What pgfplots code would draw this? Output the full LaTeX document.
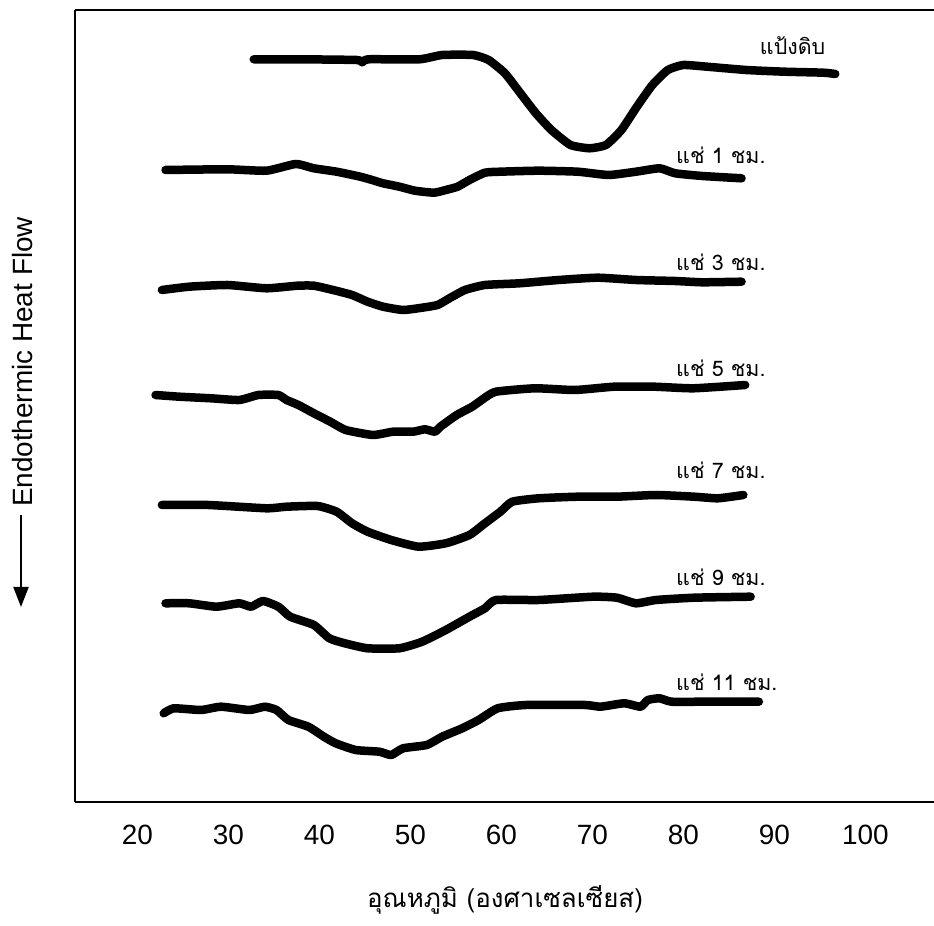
\documentclass[border=0pt]{standalone}
\usepackage{fontspec}
\setmainfont{Liberation Sans}
\newfontfamily\thai[Script=Thai]{Loma}
\usepackage{pgfplots}
\pgfplotsset{compat=1.18}
\usetikzlibrary{arrows.meta}
\tikzset{lbl/.style={font=\thai\fontsize{21.5}{26}\selectfont, anchor=west, inner sep=0pt}}

\begin{document}
\begin{tikzpicture}
\useasboundingbox (-75bp,-124bp) rectangle (859bp,802bp);
\begin{axis}[
  at={(0,0)}, anchor=south west,
  scale only axis, width=859bp, height=792bp,
  xmin=13.15, xmax=107.55, ymin=-2, ymax=790,
  axis x line=box, axis y line=left,
  axis line style={-, line width=2.2pt},
  xtick={20,30,...,100}, ytick=\empty,
  major tick length=0pt,
  xticklabel pos=lower,
  xticklabel style={font=\fontsize{28}{32}\selectfont, yshift=-20bp},
  /pgf/number format/assume math mode=true,
  xlabel={\thai อุณหภูมิ (องศาเซลเซียส)},
  xlabel style={font=\fontsize{26}{30}\selectfont, at={(axis description cs:0.5006,-0.1230)}, anchor=center},
  clip=false,
  no markers,
  cycle list={{black}},
  every axis plot post/.append style={black, line width=8.5bp, line join=round, line cap=round, smooth, tension=0.3, mark=none},
]
% raw starch
\addplot coordinates {(32.8,740.7)(37.7,740.7)(44.1,740)(44.7,737.7)(45.4,740.7)(51.0,740.7)(53.5,745)(56.9,745)(58.6,740)(60.4,726.7)(62.1,706.7)(63.8,686.7)(65.5,670)(67.6,655)(69.7,651.7)(71.5,655)(73.2,670)(74.9,693.3)(76.6,715)(78.3,730)(80.0,735)(82.6,733.3)(86.9,730)(91.1,728.3)(95.4,727.3)(96.7,726)};
% 1 h
\addplot coordinates {(23.1,630)(29.9,630.7)(34.2,629.3)(37.4,636)(39.4,631.7)(41.9,628.3)(44.5,623.3)(45.8,620)(47.0,616.7)(48.8,613.3)(50.5,609.3)(52.6,607.3)(53.9,610)(55.2,613.3)(56.5,620)(58.2,627.3)(59.9,628.3)(64.1,629.3)(68.4,628.3)(71.8,625)(74.8,628.3)(77.4,631.7)(79.1,626.7)(82.1,624)(86.4,621.7)};
% 3 h
\addplot coordinates {(22.7,510)(25.7,513.3)(29.9,515)(34.2,511.7)(37.6,514.3)(39.4,514.3)(41.5,510)(43.6,505)(45.3,498.3)(47.0,493.3)(49.2,490)(51.3,492.3)(53.0,495)(54.3,501.7)(56.0,510)(58.2,515)(62.0,516.7)(66.3,520)(70.6,522.3)(74.8,520)(79.1,519)(82.1,517.7)(86.4,518.3)};
% 5 h
\addplot coordinates {(22.0,405)(24.6,403.3)(28.1,401.7)(31.2,400)(33.3,405)(35.5,405)(36.4,400)(37.7,395)(39.4,386.7)(41.2,378.3)(42.9,370)(45.9,365)(48.1,368.3)(50.3,368.3)(51.6,370.7)(52.7,368.3)(53.3,373.3)(55.1,385)(56.8,393.3)(58.1,401.7)(59.4,408.3)(63.7,411.7)(68.1,410)(72.4,413.3)(76.8,413.3)(81.1,411.7)(86.8,415)};
% 7 h
\addplot coordinates {(22.7,295)(27.8,295)(34.2,291.7)(36.4,293.3)(39.8,294)(41.9,288.3)(43.6,276.7)(45.3,268.3)(47.9,260)(50.9,253.3)(53.9,256.7)(56.5,265)(58.2,276.7)(59.9,288.3)(61.2,298.3)(64.1,301.7)(68.4,303.3)(72.7,303.3)(77.0,305)(81.2,303.3)(83.8,301.7)(86.6,305)};
% 9 h
\addplot coordinates {(23.1,196.7)(25.7,196.7)(28.7,193.3)(31.2,196.7)(32.5,193.3)(33.8,199)(35.5,193.3)(36.8,183.3)(39.4,175)(41.1,161.7)(42.8,156.7)(45.3,151.7)(48.8,151.7)(51.3,158.3)(53.9,170)(56.5,183.3)(58.2,191.7)(59.4,200)(64.1,200)(70.1,203.3)(72.7,202.3)(74.8,196.7)(77.0,200)(81.2,202.3)(87.4,203.3)};
% 11 h
\addplot coordinates {(22.9,86.7)(24.0,91.7)(27.0,90)(29.2,93.3)(32.3,90)(34.0,93.3)(35.3,90)(36.6,80)(38.8,73.3)(40.5,63.3)(41.8,56.7)(44.0,50)(46.6,48.3)(47.9,45)(49.2,51.7)(51.8,55)(53.5,63.3)(55.7,71.7)(57.5,80)(59.6,91.7)(62.7,95)(69.2,95)(70.9,93.3)(73.5,96.7)(75.3,93.3)(76.1,100)(77.4,101.7)(78.7,98.3)(82.2,98.3)(88.3,98.3)};

\node[lbl] at (axis cs:88.4,754) {แป้งดิบ};
\node[lbl] at (axis cs:79.2,645) {แช่ 1 ชม.};
\node[lbl] at (axis cs:79.2,538) {แช่ 3 ชม.};
\node[lbl] at (axis cs:79.2,432) {แช่ 5 ชม.};
\node[lbl] at (axis cs:79.2,330) {แช่ 7 ชม.};
\node[lbl] at (axis cs:79.2,223) {แช่ 9 ชม.};
\node[lbl] at (axis cs:79.2,118) {แช่ 11 ชม.};
\end{axis}
\draw[line width=2pt, -{Triangle[length=20bp, width=15bp]}] (-54bp,287bp) -- (-54bp,195bp);
\node[rotate=90, font=\fontsize{28}{32}\selectfont] at (-52bp,440bp) {Endothermic Heat Flow};
\end{tikzpicture}
\end{document}
